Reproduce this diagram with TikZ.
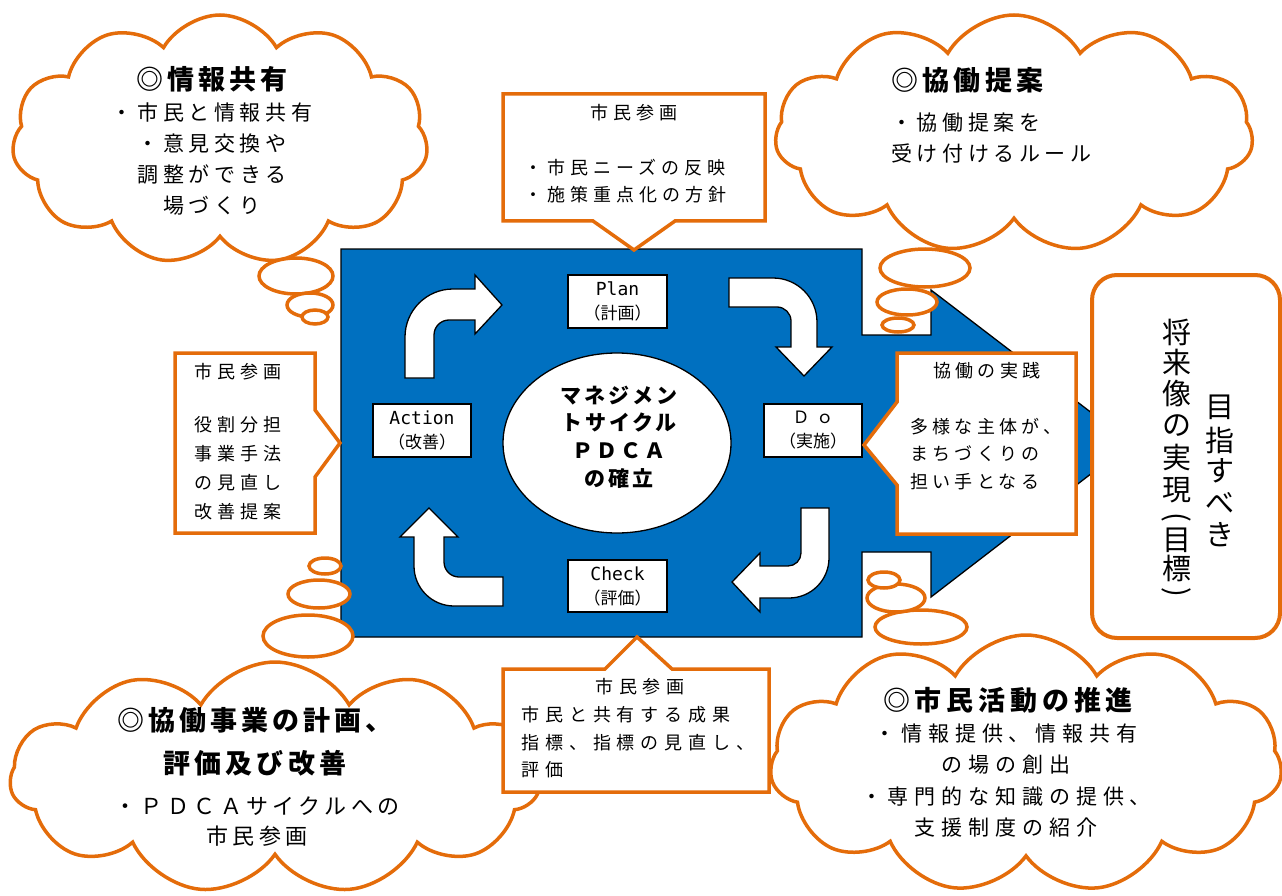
\documentclass[tikz,border=0pt]{standalone}
\usepackage{fontspec}
\setmainfont{Noto Sans CJK JP}
\newfontfamily\monofont{DejaVu Sans Mono}
\usetikzlibrary{shapes.symbols,shapes.geometric}
\definecolor{orng}{RGB}{228,108,10}
\definecolor{pblue}{RGB}{0,112,192}
\newcommand{\fs}[3]{\fontsize{#1}{#2}\selectfont\addfontfeature{LetterSpace=#3}}
\newcommand{\fb}[3]{\fontsize{#1}{#2}\selectfont\bfseries\addfontfeature{LetterSpace=#3}}
\begin{document}
\begin{tikzpicture}[x=1pt,y=1pt,
  cloudshape/.style={cloud, cloud puffs=11, cloud puff arc=120, cloud ignores aspect,
     draw=orng, line width=3.5pt, fill=white, inner sep=0pt},
  thought/.style={ellipse, draw=orng, line width=3.5pt, fill=white, inner sep=0pt},
  callout/.style={draw=orng, line width=3.5pt, fill=white, line join=miter},
  pbox/.style={draw=black, line width=1.3pt, fill=white, inner sep=0pt, align=center,
     font=\fontsize{17}{24}\selectfont},
  barrow/.style={draw=black, line width=1.3pt, fill=white},
  txt/.style={inner sep=0pt, text=black},
  vch/.style={inner sep=0pt, font=\fontsize{29}{29}\selectfont}
]
\useasboundingbox (0,0) rectangle (1282,-896);

% main blue arrow
\draw[fill=pblue, draw=black, line width=1.3pt]
  (341,-249) -- (862,-249) -- (862,-335) -- (931,-335) -- (931,-290) -- (1131,-443)
  -- (931,-597) -- (931,-552) -- (862,-552) -- (862,-637) -- (341,-637) -- cycle;

% PDCA boxes
\node[pbox, minimum width=99pt, minimum height=53pt] (plan) at (617.5,-301.5)
  {{\monofont\fontsize{18}{24}\selectfont Plan}\\（計画）};
\node[pbox, minimum width=98pt, minimum height=53pt] (act) at (422,-430.5)
  {{\monofont\fontsize{18}{24}\selectfont Action}\\（改善）};
\node[pbox, minimum width=98pt, minimum height=53pt] (do) at (813,-430.5)
  {{\addfontfeature{LetterSpace=40}Ｄｏ}\\（実施）};
\node[pbox, minimum width=99pt, minimum height=52pt] (chk) at (617.5,-586)
  {{\monofont\fontsize{18}{24}\selectfont Check}\\（評価）};

% center ellipse
\node[ellipse, draw=black, line width=1.3pt, fill=white, minimum width=228pt,
  minimum height=180pt, inner sep=0pt] (core) at (617,-443) {};
\node[txt, align=center, font=\fb{21}{27.7}{14}] (coret) at (619,-437)
  {マネジメン\\トサイクル\\ＰＤＣＡ\\の確立};

% curved block arrows
\draw[barrow] (405,-378) -- (405,-337) arc[start angle=180, end angle=90, radius=48]
  -- (475,-289) -- (475,-275) -- (502,-305) -- (475,-334) -- (475,-320) -- (449,-320)
  arc[start angle=90, end angle=180, radius=15] -- (434,-378) -- cycle;
\draw[barrow] (729,-278) -- (773,-278) arc[start angle=90, end angle=0, radius=44]
  -- (817,-347) -- (832,-347) -- (804,-376) -- (776,-347) -- (791,-347) -- (791,-321)
  arc[start angle=0, end angle=90, radius=14] -- (729,-307) -- cycle;
\draw[barrow] (801,-508) -- (829,-508) -- (829,-558) arc[start angle=0, end angle=-90, radius=40]
  -- (760,-598) -- (760,-612) -- (732,-582) -- (760,-553) -- (760,-566) -- (788,-566)
  arc[start angle=-90, end angle=0, radius=13] -- cycle;
\draw[barrow] (503,-577) -- (503,-606) -- (454,-606) arc[start angle=270, end angle=180, radius=40]
  -- (414,-537) -- (400,-537) -- (429,-508) -- (458,-537) -- (444,-537) -- (444,-562)
  arc[start angle=180, end angle=270, radius=15] -- cycle;

% clouds
\node[cloudshape, minimum width=416pt, minimum height=250pt] (cl1) at (220,-140) {};
\node[cloudshape, minimum width=478pt, minimum height=238pt] (cl2) at (1014,-134) {};
\node[cloudshape, minimum width=530pt, minimum height=232pt] (cl3) at (275,-778) {};
\node[cloudshape, minimum width=512pt, minimum height=258pt] (cl4) at (1026,-764) {};

% thought bubbles
\node[thought, minimum width=74pt, minimum height=36pt] (t1a) at (296,-276) {};
\node[thought, minimum width=46pt, minimum height=24pt] (t1b) at (310,-305) {};
\node[thought, minimum width=26pt, minimum height=14pt] (t1c) at (315,-317) {};
\node[thought, minimum width=90pt, minimum height=38pt] (t2a) at (925,-268) {};
\node[thought, minimum width=60pt, minimum height=26pt] (t2b) at (907,-302) {};
\node[thought, minimum width=32pt, minimum height=14pt] (t2c) at (898,-325) {};
\node[thought, minimum width=90pt, minimum height=42pt] (t3a) at (308,-636) {};
\node[thought, minimum width=62pt, minimum height=28pt] (t3b) at (319,-594) {};
\node[thought, minimum width=32pt, minimum height=16pt] (t3c) at (325,-566) {};
\node[thought, minimum width=92pt, minimum height=34pt] (t4a) at (921,-627) {};
\node[thought, minimum width=58pt, minimum height=28pt] (t4b) at (896,-598) {};
\node[thought, minimum width=32pt, minimum height=16pt] (t4c) at (884,-580) {};

% cloud texts
\node[txt, font=\fb{27}{32}{15}] (c1t) at (212,-79) {◎情報共有};
\node[txt, align=center, font=\fs{21}{30.7}{22}] (c1b) at (212,-159)
  {・市民と情報共有\\・意見交換や\\調整ができる\\場づくり};
\node[txt, anchor=west, font=\fb{27}{32}{16}] (c2t) at (891,-80) {◎協働提案};
\node[txt, anchor=west, align=left, font=\fs{21}{31}{22}] (c2b) at (891,-138.5)
  {・協働提案を\\受け付けるルール};
\node[txt, align=center, font=\fb{27}{43}{15}] (c3t) at (255,-741.5)
  {◎協働事業の計画、\\評価及び改善};
\node[txt, align=center, font=\fs{22}{30}{20}] (c3b) at (257,-822)
  {・ＰＤＣＡサイクルへの\\市民参画};
\node[txt, font=\fb{27}{32}{18}] (c4t) at (1008,-700) {◎市民活動の推進};
\node[txt, align=center, font=\fs{21}{31.3}{28}] (c4b) at (1006,-780.5)
  {・情報提供、情報共有\\の場の創出\\・専門的な知識の提供、\\支援制度の紹介};

% callouts
\draw[callout] (503,-94) -- (765,-94) -- (765,-221) -- (675,-221) -- (634,-250)
  -- (593,-221) -- (503,-221) -- cycle;
\draw[callout] (175,-353) -- (315,-353) -- (315,-410) -- (340,-443) -- (315,-477)
  -- (315,-533) -- (175,-533) -- cycle;
\draw[callout] (503,-669) -- (605,-669) -- (637,-637) -- (672,-669) -- (769,-669)
  -- (769,-792) -- (503,-792) -- cycle;
\draw[callout] (897,-353) -- (1076,-353) -- (1076,-534) -- (897,-534) -- (897,-485)
  -- (864,-445) -- (897,-402) -- cycle;

\node[txt, font=\fs{18}{27}{28}] (k1t) at (634,-113) {市民参画};
\node[txt, anchor=west, align=left, font=\fs{18}{27}{28}] (k1b) at (524,-181.5)
  {・市民ニーズの反映\\・施策重点化の方針};
\node[txt, anchor=west, font=\fs{18}{29}{28}] (k2t) at (194,-372) {市民参画};
\node[txt, anchor=west, align=left, font=\fs{18}{29}{28}] (k2b) at (194,-468.5)
  {役割分担\\事業手法\\の見直し\\改善提案};
\node[txt, font=\fs{18}{27.5}{33}] (k3t) at (640,-687) {市民参画};
\node[txt, anchor=west, align=left, font=\fs{18}{27.5}{33}] (k3b) at (521,-742.5)
  {市民と共有する成果\\指標、指標の見直し、\\評価};
\node[txt, anchor=west, font=\fs{18}{27.5}{24}] (k4t) at (933,-371) {協働の実践};
\node[txt, anchor=west, align=left, font=\fs{18}{27.5}{24}] (k4b) at (910,-454)
  {多様な主体が、\\まちづくりの\\担い手となる};

% goal box
\draw[orng, line width=4pt, fill=white, rounded corners=25pt] (1092,-275) rectangle (1280,-638);
\node[inner sep=0pt, minimum width=188pt, minimum height=363pt] (goal) at (1186,-456.5) {};
\foreach \c/\y [count=\i] in {目/407, 指/440, す/471, べ/503, き/535}
  \node[vch] (gr\i) at (1220,-\y) {\c};
\foreach \c/\y [count=\i] in {将/332, 来/362, 像/394, の/426, 実/458, 現/490, 目/540, 標/568}
  \node[vch] (gl\i) at (1177,-\y) {\c};
\node[vch, rotate=-90] (gp1) at (1177,-517) {(};
\node[vch, rotate=-90] (gp2) at (1177,-592) {)};
\end{tikzpicture}
\end{document}
